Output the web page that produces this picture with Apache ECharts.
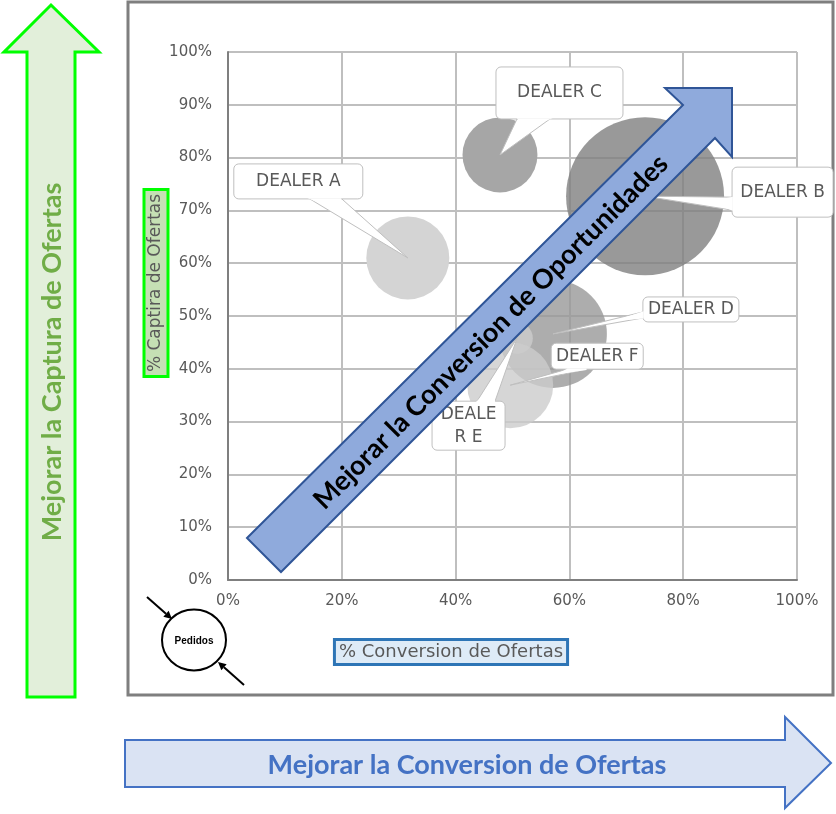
<!DOCTYPE html>
<html>
<head>
<meta charset="utf-8">
<script src="https://cdn.jsdelivr.net/npm/echarts@6/dist/echarts.min.js"></script>
<style>html,body{margin:0;padding:0;background:#fff;}#c{width:836px;height:814px;}</style>
</head>
<body>
<div id="c"></div>
<script>
// ---- data ----
const dealers = ['DEALER A', 'DEALER B', 'DEALER C', 'DEALER D', 'DEALER E', 'DEALER F'];
const dealerLabels = ['DEALER A', 'DEALER B', 'DEALER C', 'DEALER D', 'DEALE\nR E', 'DEALER F'];
const conversion = [31.6, 73.3, 47.8, 57.1, 50.8, 49.6];   // % Conversion de Ofertas
const captura = [61.0, 72.7, 80.5, 46.6, 45.8, 36.9];      // % Captira de Ofertas
const pedidos = [27.6, 100, 22.5, 46.7, 4, 29.6];          // bubble size
const xTicks = [0, 20, 40, 60, 80, 100];
const yTicks = [0, 10, 20, 30, 40, 50, 60, 70, 80, 90, 100];

// ---- style ----
const bubbleColors = ['#d4d4d4', '#7f7f7f', '#a6a6a6', '#989898', '#cccccc', '#cccccc'];
const bubbleOpacity = [1, 0.8, 1, 0.8, 0.8, 0.8];
const maxRadius = 79;
// callout layout: offsets from bubble centre (pixels)
const calloutLayout = [
  {off: [-109.5, -76.5], w: 129, h: 35, base: [[-98, -59], [-66, -59]]},
  {off: [137.5, -4], w: 101, h: 50, base: [[87, 1], [87, 14]]},
  {off: [59.5, -62], w: 127, h: 52, base: [[17, -36], [50, -36]]},
  {off: [138, -24.5], w: 96, h: 25, base: [[90, -22], [90, -16]]},
  {off: [-48.5, 87.5], w: 73, h: 49, base: [[-40, 63], [-22, 63]]},
  {off: [87, -29], w: 92, h: 26, base: [[57, -16], [77, -16]]}
];

const chart = echarts.init(document.getElementById('c'), null, {renderer: 'canvas'});
const labelFont = 'DejaVu Sans';

const option = {
  animation: false,
  backgroundColor: '#ffffff',
  grid: {left: 228, right: 39, top: 52, bottom: 234},
  xAxis: {
    type: 'value', min: xTicks[0], max: xTicks[xTicks.length - 1], interval: xTicks[1] - xTicks[0],
    axisLabel: {formatter: '{value}%', color: '#595959', fontFamily: labelFont, fontSize: 15, margin: 14},
    axisLine: {show: true, lineStyle: {color: '#7f7f7f', width: 2}},
    axisTick: {show: false},
    splitLine: {show: true, lineStyle: {color: '#bfbfbf', width: 2}}
  },
  yAxis: {
    type: 'value', min: yTicks[0], max: yTicks[yTicks.length - 1], interval: yTicks[1] - yTicks[0],
    axisLabel: {formatter: '{value}%', color: '#595959', fontFamily: labelFont, fontSize: 15, margin: 16},
    axisLine: {show: true, lineStyle: {color: '#7f7f7f', width: 2}},
    axisTick: {show: false},
    splitLine: {show: true, lineStyle: {color: '#bfbfbf', width: 2}}
  },
  series: [{
    type: 'scatter',
    silent: true,
    z: 2,
    data: dealers.map((d, i) => ({
      name: d,
      value: [conversion[i], captura[i], pedidos[i]],
      itemStyle: {color: bubbleColors[i], opacity: bubbleOpacity[i]}
    })),
    symbolSize: function (val) { return 2 * maxRadius * Math.sqrt(val[2] / 100); }
  }]
};
chart.setOption(option);

const els = [];
// outer frame
els.push({type: 'rect', silent: true, z: 1, shape: {x: 128, y: 2, width: 705, height: 693},
  style: {fill: 'none', stroke: '#7f7f7f', lineWidth: 3}});

// callouts
dealers.forEach((d, i) => {
  const p = chart.convertToPixel({seriesIndex: 0}, [conversion[i], captura[i]]);
  const L = calloutLayout[i];
  const cx = p[0] + L.off[0], cy = p[1] + L.off[1];
  const b1 = [p[0] + L.base[0][0], p[1] + L.base[0][1]];
  const b2 = [p[0] + L.base[1][0], p[1] + L.base[1][1]];
  const mid = [(b1[0] + b2[0]) / 2, (b1[1] + b2[1]) / 2];
  const m = [mid[0] + 0.25 * (p[0] - mid[0]), mid[1] + 0.25 * (p[1] - mid[1])];
  const shrink = (a) => [a[0] + 0.08 * (mid[0] - a[0]), a[1] + 0.08 * (mid[1] - a[1])];
  els.push({type: 'polygon', silent: true, z: 10, shape: {points: [b1, p, b2]},
    style: {fill: '#ffffff', stroke: '#bfbfbf', lineWidth: 1}});
  els.push({type: 'rect', silent: true, z: 11, shape: {x: cx - L.w / 2, y: cy - L.h / 2, width: L.w, height: L.h, r: 5},
    style: {fill: '#ffffff', stroke: '#bfbfbf', lineWidth: 1}});
  els.push({type: 'polygon', silent: true, z: 12, shape: {points: [shrink(b1), m, shrink(b2)]},
    style: {fill: '#ffffff', stroke: '#ffffff', lineWidth: 1.5}});
  els.push({type: 'text', silent: true, z: 13, x: cx, y: cy,
    style: {text: dealerLabels[i], font: '17px ' + labelFont, fill: '#595959',
      align: 'center', verticalAlign: 'middle', textAlign: 'center', textVerticalAlign: 'middle', lineHeight: 23}});
});

// axis titles
els.push({type: 'text', silent: true, z: 15, x: 451, y: 652,
  style: {text: '% Conversion de Ofertas', font: '18px ' + labelFont, fill: '#595959',
    align: 'center', verticalAlign: 'middle', textAlign: 'center', textVerticalAlign: 'middle',
    backgroundColor: '#deebf7', borderColor: '#2e75b6', borderWidth: 3, padding: [2, 3]}});
els.push({type: 'text', silent: true, z: 15, x: 156, y: 283, rotation: Math.PI / 2,
  style: {text: '% Captira de Ofertas', font: '17px ' + labelFont, fill: '#595959',
    align: 'center', verticalAlign: 'middle', textAlign: 'center', textVerticalAlign: 'middle',
    backgroundColor: '#c5e0b4', borderColor: '#00ff00', borderWidth: 3, padding: [2, 3]}});

// diagonal arrow
els.push({type: 'polygon', silent: true, z: 20,
  shape: {points: [[247, 538], [683, 105], [665, 88], [732, 88], [732, 157], [715, 138], [281, 572]]},
  style: {fill: '#8faadc', stroke: '#2f5597', lineWidth: 2}});
els.push({type: 'text', silent: true, z: 21, x: 491, y: 332, rotation: Math.PI / 4,
  style: {text: 'Mejorar la Conversion de Oportunidades', font: 'bold 27px Lato', fill: '#000000',
    align: 'center', verticalAlign: 'middle', textAlign: 'center', textVerticalAlign: 'middle'}});

// left green arrow
els.push({type: 'polygon', silent: true, z: 20,
  shape: {points: [[27, 697], [27, 52], [4, 52], [51, 5], [99, 52], [75, 52], [75, 697]]},
  style: {fill: '#e2efda', stroke: '#00ff00', lineWidth: 3}});
els.push({type: 'text', silent: true, z: 21, x: 52, y: 362, rotation: Math.PI / 2,
  style: {text: 'Mejorar la Captura de Ofertas', font: 'bold 27px Lato', fill: '#70ad47',
    align: 'center', verticalAlign: 'middle', textAlign: 'center', textVerticalAlign: 'middle'}});

// bottom blue arrow
els.push({type: 'polygon', silent: true, z: 20,
  shape: {points: [[125, 740], [785, 740], [785, 717], [831, 763], [785, 808], [785, 787], [125, 787]]},
  style: {fill: '#dae3f3', stroke: '#4472c4', lineWidth: 2}});
els.push({type: 'text', silent: true, z: 21, x: 467, y: 765,
  style: {text: 'Mejorar la Conversion de Ofertas', font: 'bold 27px Lato', fill: '#4472c4',
    align: 'center', verticalAlign: 'middle', textAlign: 'center', textVerticalAlign: 'middle'}});

// Pedidos legend
els.push({type: 'ellipse', silent: true, z: 20, shape: {cx: 194, cy: 640, rx: 32, ry: 30.5},
  style: {fill: '#ffffff', stroke: '#000000', lineWidth: 2}});
els.push({type: 'text', silent: true, z: 21, x: 194, y: 641,
  style: {text: 'Pedidos', font: 'bold 10px "Liberation Sans"', fill: '#000000',
    align: 'center', verticalAlign: 'middle', textAlign: 'center', textVerticalAlign: 'middle'}});
function arrowLine(x1, y1, x2, y2) {
  const ang = Math.atan2(y2 - y1, x2 - x1), hl = 8, hw = 4;
  const bx = x2 - hl * Math.cos(ang), by = y2 - hl * Math.sin(ang);
  els.push({type: 'line', silent: true, z: 20, shape: {x1: x1, y1: y1, x2: bx, y2: by},
    style: {stroke: '#000000', lineWidth: 2}});
  els.push({type: 'polygon', silent: true, z: 20,
    shape: {points: [[x2, y2], [bx + hw * Math.sin(ang), by - hw * Math.cos(ang)], [bx - hw * Math.sin(ang), by + hw * Math.cos(ang)]]},
    style: {fill: '#000000'}});
}
arrowLine(147, 597, 172, 619);
arrowLine(244, 685, 218, 662);

chart.setOption({graphic: {elements: els}});
</script>
</body>
</html>
